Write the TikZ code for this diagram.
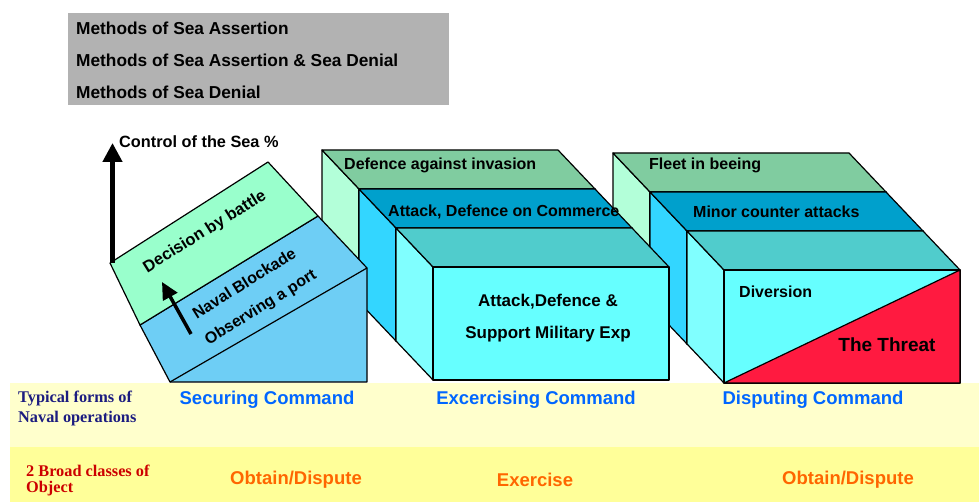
\documentclass[tikz,border=0pt]{standalone}
\usepackage{fontspec}
\setmainfont{Liberation Sans}
\newfontfamily\timesfont{Liberation Serif}
\usetikzlibrary{arrows.meta}

\definecolor{bandlight}{HTML}{FFFFCC}
\definecolor{banddark}{HTML}{FFFF99}
\definecolor{legendgrey}{HTML}{B2B2B2}
\definecolor{topone}{HTML}{80CCA0}
\definecolor{toptwo}{HTML}{00A0CC}
\definecolor{topthree}{HTML}{50CCCC}
\definecolor{sideone}{HTML}{B3FFD9}
\definecolor{sidetwo}{HTML}{33D6FF}
\definecolor{sidethree}{HTML}{80FFFF}
\definecolor{frontcyan}{HTML}{66FFFF}
\definecolor{threatred}{HTML}{FF1A40}
\definecolor{slopegreen}{HTML}{99FFCC}
\definecolor{slopeblue}{HTML}{6ECEF5}
\definecolor{cmdblue}{HTML}{0066FF}
\definecolor{objorange}{HTML}{FF6600}
\definecolor{formnavy}{HTML}{1C1C80}
\definecolor{classred}{HTML}{CC0000}

\begin{document}
\begin{tikzpicture}[x=1pt,y=-1pt]

\tikzset{face/.style = {draw=black,line width=1.2pt,line join=round}}
\tikzset{txt/.style = {inner sep=0pt,font=\bfseries\fontsize{16}{19}\selectfont}}
\tikzset{legend/.style = {inner sep=0pt,anchor=west,font=\bfseries\fontsize{17.3}{19}\selectfont}}
\tikzset{bigtxt/.style = {inner sep=0pt,font=\bfseries\fontsize{18.5}{22}\selectfont}}
\tikzset{serif/.style = {inner sep=0pt,anchor=west,font=\timesfont\bfseries\fontsize{16.3}{19}\selectfont}}
\tikzset{axis/.style = {-{Triangle[width=19pt,length=19pt]},line width=4.5pt}}
\tikzset{small axis/.style = {-{Triangle[width=16pt,length=17pt]},line width=3.5pt}}

\useasboundingbox (0,0) rectangle (979,502);

% bands and legend
\fill[bandlight] (10,383) rectangle (979,447);
\fill[banddark] (10,447) rectangle (979,502);
\fill[legendgrey] (68,13) rectangle (449,105);

% boxes (back to front)
\foreach \x/\y/\topc/\sidec in {613/153/topone/sideone,650/192/toptwo/sidetwo,687/231/topthree/sidethree,322/150/topone/sideone,359/189/toptwo/sidetwo,396/228/topthree/sidethree}{
  \draw[face,fill=\sidec] (\x,\y) -- ++(37,39) -- ++(0,113) -- ++(-37,-39) -- cycle;
  \draw[face,fill=\topc] (\x,\y) -- ++(236,0) -- ++(37,39) -- ++(-236,0) -- cycle;
  \draw[face,fill=frontcyan] (\x+37,\y+39) rectangle ++(236,113);
  \ifnum\x=687
    \draw[face,fill=threatred] (724,383) -- (960,270) -- (960,383) -- cycle;
  \fi
}

% slope
\draw[face,fill=slopeblue] (140,325) -- (318,216) -- (367,268) -- (367,382) -- (170,382) -- cycle;
\draw[face] (170,382) -- (367,268);
\draw[face,fill=slopegreen] (110,263) -- (268,162) -- (318,216) -- (140,325) -- cycle;

% arrows
\coordinate (axisfoot) at (112.5,263);
\coordinate (axistip) at (112.5,143);
\draw[axis] (axisfoot) -- (axistip);
\coordinate (blockfoot) at (191,334);
\coordinate (blocktip) at (162,282);
\draw[small axis] (blockfoot) -- (blocktip);

% labels
\node[legend] (assertion) at (76,28) {Methods of Sea Assertion};
\node[legend] (both) at (76,60) {Methods of Sea Assertion \& Sea Denial};
\node[legend] (denial) at (76,92) {Methods of Sea Denial};
\node[txt,anchor=west,font=\bfseries\fontsize{16.3}{18}\selectfont] (control) at (119,142) {Control of the Sea \%};

\node[txt,rotate=32,font=\bfseries\fontsize{16.5}{19}\selectfont] (battle) at (205,232) {Decision by battle};
\node[txt,rotate=32] (blockade) at (244,283) {Naval Blockade};
\node[txt,rotate=32] (port) at (261,308) {Observing a port};

\node[txt,anchor=west] (invasion) at (344,165) {Defence against invasion};
\node[txt,anchor=west] (commerce) at (388,212) {Attack, Defence on Commerce};
\node[txt,font=\bfseries\fontsize{17}{20}\selectfont] (support1) at (548,302) {Attack,Defence \&};
\node[txt,font=\bfseries\fontsize{17}{20}\selectfont] (support2) at (548,334) {Support Military Exp};

\node[txt,anchor=west] (fleet) at (649,165) {Fleet in beeing};
\node[txt,anchor=west] (minor) at (693,212) {Minor counter attacks};
\node[txt,anchor=west] (diversion) at (739,292) {Diversion};
\node[txt,font=\bfseries\fontsize{19}{22}\selectfont] (threat) at (887,345) {The Threat};

\node[serif,text=formnavy] (forms1) at (18,399) {Typical forms of};
\node[serif,text=formnavy] (forms2) at (18,419) {Naval operations};
\node[serif,text=classred] (classes1) at (26,471) {2 Broad classes of};
\node[serif,text=classred] (classes2) at (26,489) {Object};

\node[bigtxt,text=cmdblue] (securing) at (267,400) {Securing Command};
\node[bigtxt,text=cmdblue] (exercising) at (536,400) {Excercising Command};
\node[bigtxt,text=cmdblue] (disputing) at (813,400) {Disputing Command};
\node[bigtxt,text=objorange] (obtain1) at (296,480) {Obtain/Dispute};
\node[bigtxt,text=objorange] (exercise) at (535,480) {Exercise};
\node[bigtxt,text=objorange] (obtain2) at (848,480) {Obtain/Dispute};

\end{tikzpicture}
\end{document}
